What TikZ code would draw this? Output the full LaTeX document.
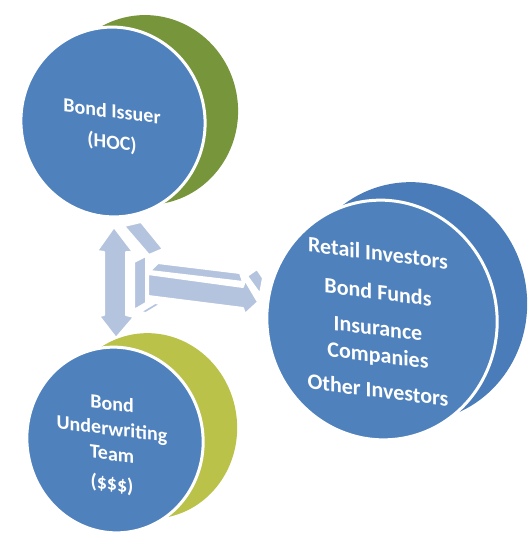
\documentclass[tikz,border=0pt]{standalone}
\usepackage{fontspec}
\setmainfont{Carlito}
\usetikzlibrary{calc}
\definecolor{faceblue}{HTML}{4F81BD}
\definecolor{sideblue}{HTML}{4A7CB9}
\definecolor{sidegreen}{HTML}{77953B}
\definecolor{sidelime}{HTML}{BAC24A}
\definecolor{arrowfill}{HTML}{B4C3DE}
\tikzset{
  discface/.style={fill=faceblue, draw=white, line width=3pt},
  disctext/.style={text=white, font=\bfseries\fontsize{20}{25}\selectfont, yslant=-0.125,
    align=center, inner sep=0pt},
  bigtext/.style={disctext, font=\bfseries\fontsize{22}{27}\selectfont},
  block/.style={fill=arrowfill, draw=white, line width=2pt, line join=round},
}
\begin{document}
\begin{tikzpicture}[x=1pt,y=-1pt]
\useasboundingbox (0,0) rectangle (531,534);

% disc centres (front faces)
\coordinate (issuer) at (113,122);
\coordinate (team) at (115,440);
\coordinate (investors) at (382,320);

% back faces (the extruded sides)
\fill[sidegreen] ($(issuer)+(33,-12)$) ellipse [x radius=92, y radius=95, rotate=10];
\fill[sidelime] ($(team)+(34,-14)$) ellipse [x radius=88, y radius=93, rotate=10];
\fill[sideblue] ($(investors)+(30,-18)$) ellipse [x radius=115, y radius=120, rotate=10];

% front faces
\draw[discface] (issuer) ellipse [x radius=92, y radius=95, rotate=10];
\draw[discface] (team) ellipse [x radius=88, y radius=93, rotate=10];
\draw[discface] (investors) ellipse [x radius=115, y radius=120, rotate=10];

% texts
\node[disctext] (issuertext) at (112,128) {Bond Issuer\\[6pt](HOC)};
\node[disctext] (teamtext) at (112,445) {Bond\\Underwriting\\Team\\[5pt](\$\$\$)};
\node[bigtext] (investortext) at (378,321.5)
  {Retail Investors\\[12pt]Bond Funds\\[9pt]Insurance\\Companies\\[8pt]Other Investors};

% 3D block arrows
% side of the upper head
\draw[block] (124,226) -- (141,222) -- (163,249) -- (149,255) -- cycle;
% junction faces
\draw[block] (134,262) -- (146,256) -- (146,303) -- (134,310) -- cycle;
\draw[block] (140,312) -- (155,303) -- (161,304) -- (146,313) -- cycle;
% vertical double arrow
\draw[block] (114,227) -- (133,252) -- (126,252) -- (126,315) -- (134,317)
  -- (116,338) -- (99,316) -- (104,315) -- (104,252) -- (97,251) -- cycle;
% horizontal arrow: top face, head side, front
\draw[block] (150,271) -- (158,263) -- (240,273) -- (243,282) -- cycle;
\draw[block] (247,276) -- (257,269) -- (263,278) -- (260,294) -- cycle;
\draw[block] (148,274) -- (243,287) -- (245,280) -- (258,302) -- (245,314)
  -- (243,308) -- (148,296) -- cycle;
\end{tikzpicture}
\end{document}
